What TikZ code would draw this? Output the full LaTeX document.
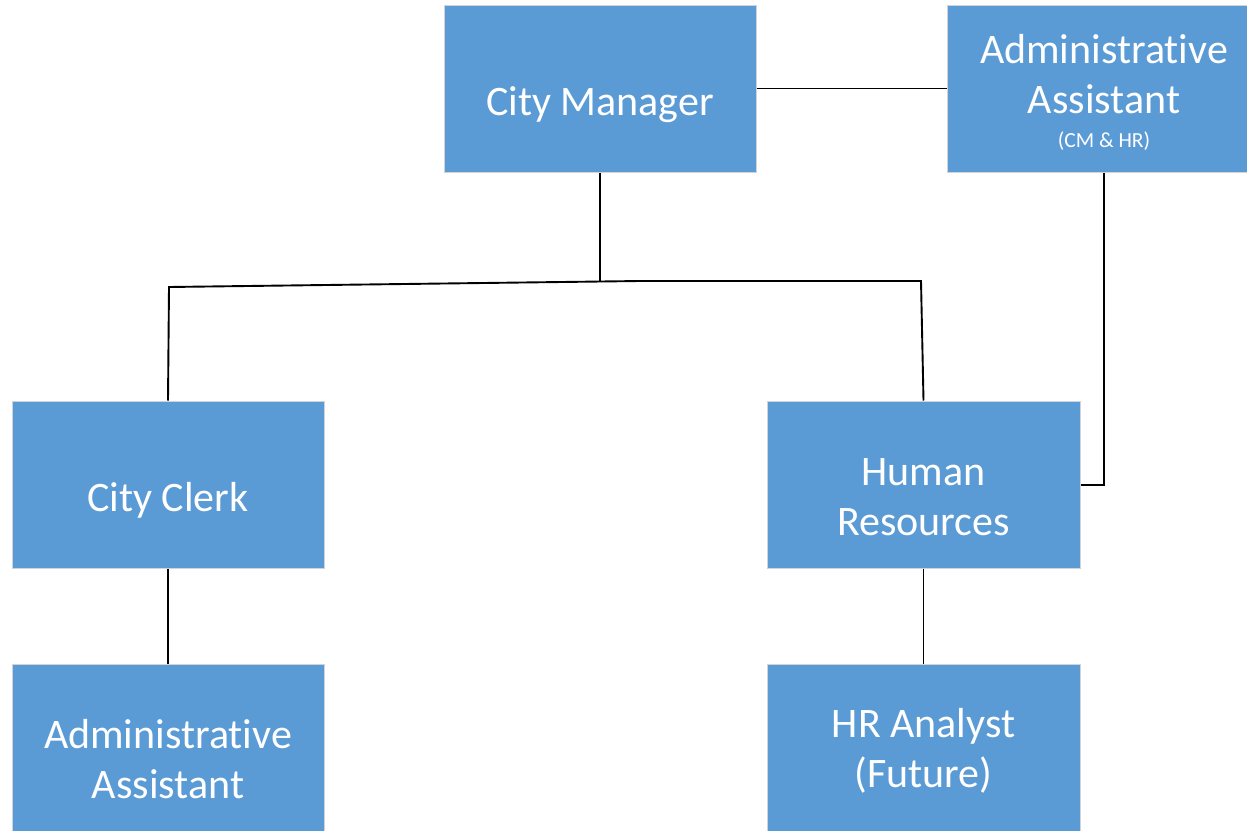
\documentclass[tikz,border=0pt]{standalone}
\usepackage{fontspec}
\setmainfont{Carlito}[Ligatures={NoCommon}]
\definecolor{boxblue}{HTML}{5B9BD5}
\definecolor{boxedge}{HTML}{D0D4DA}
\begin{document}
\begin{tikzpicture}[x=1pt,y=-1pt,
  orgbox/.style={rectangle, fill=boxblue, draw=boxedge, line width=1pt, inner sep=0pt, minimum width=312pt, minimum height=167pt},
  lbl/.style={text=white, font=\fontsize{42}{50}\selectfont, align=center, anchor=base, inner sep=0pt},
  small/.style={text=white, font=\fontsize{21.5}{25}\selectfont, anchor=base, inner sep=0pt},
  link/.style={draw=black, line width=1.9pt}]
\useasboundingbox (0,0) rectangle (1247,830);
% boxes
\node[orgbox] (cm) at (600,88.5) {};
\node[orgbox, minimum width=300pt] (aa1) at (1097,88.5) {};
\node[orgbox] (cc) at (168,484.5) {};
\node[orgbox, minimum width=313pt] (hr) at (923.5,484.5) {};
\node[orgbox] (aa2) at (168,747.5) {};
\node[orgbox, minimum width=313pt] (hra) at (923.5,747.5) {};
% labels (base anchor = baseline of last line)
\node[lbl] (tcm) at (600,115) {City Manager};
\node[lbl] (taa1) at (1104,113) {Administrative\\Assistant};
\node[small] (taa1s) at (1104,147) {(CM \& HR)};
\node[lbl] (tcc) at (168,511) {City Clerk};
\node[lbl] (thr) at (923.5,535) {Human\\Resources};
\node[lbl] (taa2) at (168,798) {Administrative\\Assistant};
\node[lbl] (thra) at (923.5,787) {HR Analyst\\(Future)};
% junctions
\coordinate (jL) at (169,287);
\coordinate (jM) at (600,281);
\coordinate (jS) at (640,281);
\coordinate (jR) at (921,281);
\coordinate (k) at (1104,485);
% connectors
\draw[link] (cm.east) -- (aa1.west);
\draw[link] (cm.south) -- (jM);
\draw[link] (cc.north) -- (jL) -- (jS) -- (jR) -- (hr.north);
\draw[link] (aa1.south -| k) -- (k) -- (k -| hr.east);
\draw[link] (cc.south) -- (aa2.north);
\draw[link] (hr.south) -- (hra.north);
\end{tikzpicture}
\end{document}
